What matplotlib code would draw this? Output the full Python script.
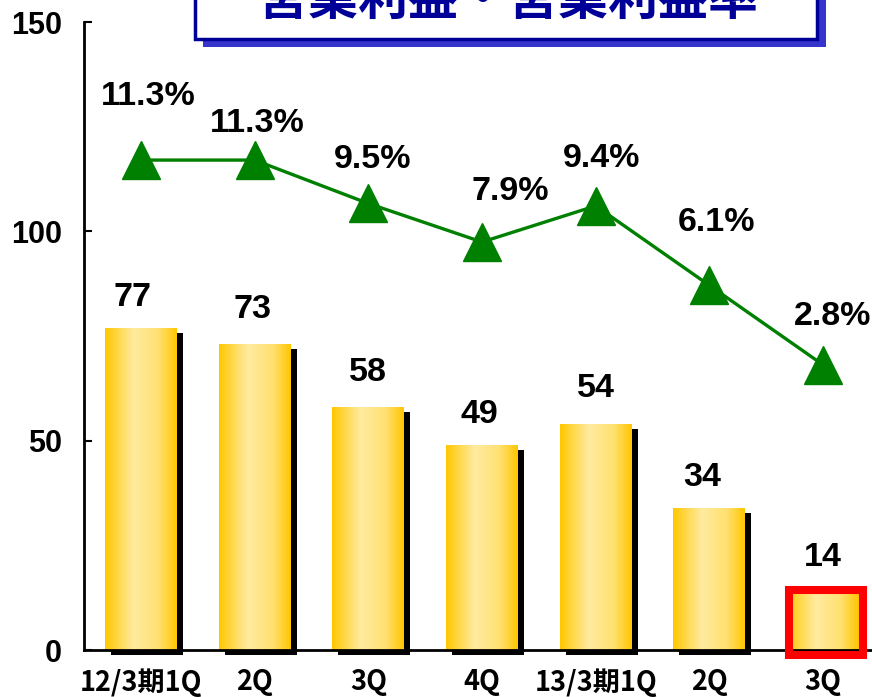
import matplotlib
matplotlib.use("Agg")
import matplotlib.pyplot as plt
import numpy as np
from matplotlib.colors import LinearSegmentedColormap
from matplotlib.patches import Rectangle
from matplotlib.transforms import ScaledTranslation

# ---- data ----
categories = ["12/3期1Q", "2Q", "3Q", "4Q", "13/3期1Q", "2Q", "3Q"]
profit = [77, 73, 58, 49, 54, 34, 14]
margin = [11.3, 11.3, 9.5, 7.9, 9.4, 6.1, 2.8]
margin_labels = ["11.3%", "11.3%", "9.5%", "7.9%", "9.4%", "6.1%", "2.8%"]
yticks = [0, 50, 100, 150]
title = "営業利益・営業利益率"
highlight_index = 6

# ---- label offsets (pixels) ----
pct_off = [(7, 55), (3, 28), (4, 35), (28, 42), (6, 39), (7, 54), (9, 40)]
val_off = [(-8, 22), (-2, 26), (0, 26), (-3, 22), (0, 27), (-7, 22), (0, 25)]

W, H = 872, 697
DPI = 100
fig = plt.figure(figsize=(W / DPI, H / DPI), dpi=DPI)

left, right, top, bottom = 84, 880, 22, 650
ax = fig.add_axes([left / W, 1 - bottom / H, (right - left) / W, (bottom - top) / H])
ax.set_xlim(-0.5, len(categories) - 0.5)
ax.set_ylim(0, 150)

num_font = "Liberation Sans"
cjk_font = ["Noto Sans CJK JP", "DejaVu Sans"]

x = np.arange(len(categories))
bw = 0.633

# shadows
shadow_tr = ax.transData + ScaledTranslation(6 / DPI, -5 / DPI, fig.dpi_scale_trans)
for i, v in enumerate(profit):
    if i == highlight_index:
        continue
    r = Rectangle((x[i] - bw / 2, 0), bw, v, facecolor="black", edgecolor="none",
                  transform=shadow_tr, clip_on=False, zorder=1)
    ax.add_patch(r)

# gradient bars
cmap = LinearSegmentedColormap.from_list(
    "gold", [(0.0, "#FFC800"), (0.4, "#FFEBA0"), (0.75, "#FFE070"), (1.0, "#FFC600")])
grad = np.linspace(0, 1, 256).reshape(1, -1)
bars = ax.bar(x, profit, width=bw, color="none", edgecolor="none", zorder=2)
for b in bars:
    x0, y0 = b.get_x(), b.get_y()
    w, h = b.get_width(), b.get_height()
    im = ax.imshow(grad, cmap=cmap, extent=[x0, x0 + w, y0, y0 + h], aspect="auto",
                   zorder=2, interpolation="bilinear")
    im.set_clip_path(b)
ax.set_xlim(-0.5, len(categories) - 0.5)
ax.set_ylim(0, 150)

# highlight box
hb = bars[highlight_index]
ax.add_patch(Rectangle((hb.get_x() + 0.02, hb.get_y() - 1.2), hb.get_width() + 0.01,
                       hb.get_height() + 1.6, facecolor="none", edgecolor="#FF0000",
                       lw=5.8, clip_on=False, zorder=4, joinstyle="miter"))

# value labels
for i, v in enumerate(profit):
    dx, dy = val_off[i]
    ax.annotate(str(v), (x[i], v), xytext=(dx * 0.72, dy * 0.72), textcoords="offset points",
                ha="center", va="baseline", fontsize=24.5, fontweight="bold",
                family=num_font, color="black", zorder=6)

# axes styling
for s in ["top", "right"]:
    ax.spines[s].set_visible(False)
ax.spines["left"].set_linewidth(2)
ax.spines["bottom"].set_linewidth(2)
ax.spines["left"].set_zorder(5)
ax.spines["bottom"].set_zorder(3)
ax.set_yticks(yticks)
ax.set_yticklabels([str(t) for t in yticks], fontsize=22, fontweight="bold", family=num_font)
ax.tick_params(axis="y", direction="in", length=6, width=1.5, pad=16)
ax.set_xticks(x)
ax.set_xticklabels(categories, fontsize=19.5, fontweight="bold", family=cjk_font)
ax.tick_params(axis="x", length=0, pad=13)

# secondary axis line
ax2 = ax.twinx()
ax2.set_ylim(-9.03, 17.03)
ax2.axis("off")
ax2.plot(x, margin, color="#008000", lw=2.4, marker="^", markersize=27,
         markerfacecolor="#008000", markeredgecolor="#008000", zorder=5, clip_on=False)
for i, v in enumerate(margin):
    dx, dy = pct_off[i]
    ax2.annotate(margin_labels[i], (x[i], v), xytext=(dx * 0.72, dy * 0.72),
                 textcoords="offset points", ha="center", va="baseline",
                 fontsize=24.5, fontweight="bold", family=num_font, color="black")

# title box
def fx(px):
    return px / W

def fy(py):
    return 1 - py / H

shadow = Rectangle((fx(203), fy(47)), fx(826) - fx(203), fy(-20) - fy(47),
                   transform=fig.transFigure, facecolor="#3535CC", edgecolor="none", zorder=10)
box = Rectangle((fx(195), fy(39)), fx(817) - fx(195), fy(-20) - fy(39),
                transform=fig.transFigure, facecolor="white", edgecolor="#000099",
                lw=2.5, zorder=11)
fig.patches.extend([shadow, box])
fig.text(fx(508), fy(15), title, ha="center", va="baseline", fontsize=36,
         fontweight="bold", family=cjk_font, color="#000099", zorder=12)

fig.savefig("out.png", dpi=DPI)
